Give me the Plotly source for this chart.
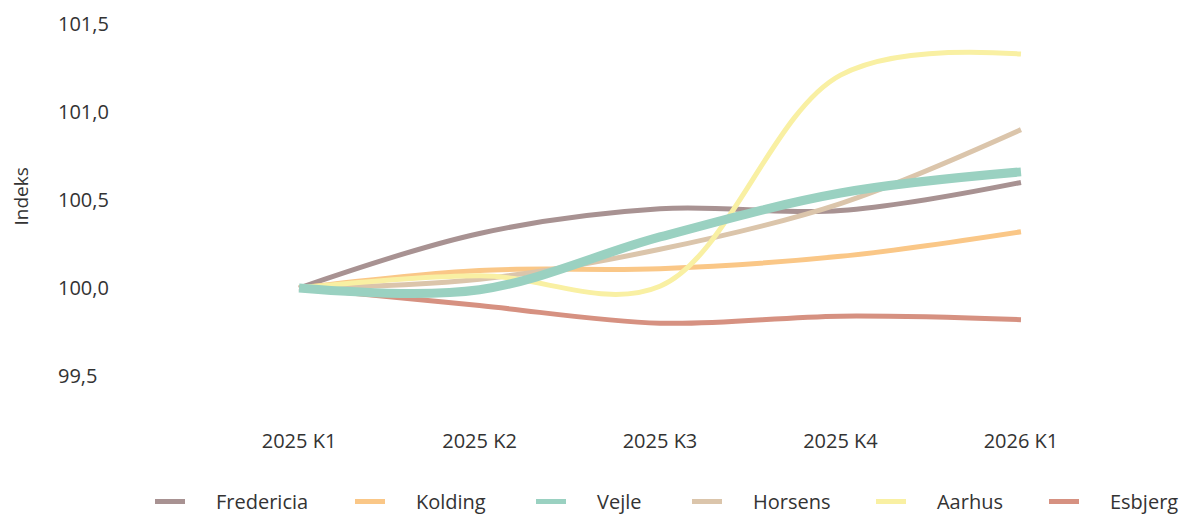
import plotly.graph_objects as go

quarters = ['2025 K1', '2025 K2', '2025 K3', '2025 K4', '2026 K1']

fredericia = [100.0, 100.31, 100.45, 100.44, 100.60]
kolding = [100.0, 100.10, 100.11, 100.18, 100.32]
vejle = [100.0, 99.99, 100.29, 100.54, 100.66]
horsens = [100.0, 100.05, 100.22, 100.48, 100.90]
aarhus = [100.0, 100.07, 100.01, 101.21, 101.33]
esbjerg = [100.0, 99.90, 99.80, 99.84, 99.82]

series = [
    ('Fredericia', fredericia, '#a89292', 5),
    ('Kolding', kolding, '#fac787', 5),
    ('Vejle', vejle, '#9ad1c1', 9),
    ('Horsens', horsens, '#dbc5ab', 5),
    ('Aarhus', aarhus, '#f9f0a3', 5),
    ('Esbjerg', esbjerg, '#d69181', 5),
]
# left edge of each legend entry (px in the page)
legend_x = [150, 350, 531, 687, 871, 1044]

font = 'Open Sans'
txt = '#333333'
# the page body has an 8px margin, so the figure is drawn 8px smaller
OFF = 8
W, H = 1191 - OFF, 516 - OFF

fig = go.Figure()
# Vejle is drawn on top of the others
order = [0, 1, 3, 4, 5, 2]
for i in order:
    name, vals, color, width = series[i]
    leg = 'legend' if i == 0 else 'legend%d' % (i + 1)
    fig.add_trace(go.Scatter(
        x=quarters, y=vals, name='\u00a0' * 5 + name, mode='lines',
        line=dict(color=color, width=width, shape='spline'),
        legend=leg,
    ))

legends = {}
for i, lx in enumerate(legend_x):
    key = 'legend' if i == 0 else 'legend%d' % (i + 1)
    legends[key] = dict(orientation='h', xref='container', yref='container',
                        x=(lx - OFF) / W, xanchor='left',
                        y=1 - (482 - OFF) / H, yanchor='top',
                        font=dict(family=font, size=20, color=txt),
                        bgcolor='rgba(0,0,0,0)', itemsizing='constant')

plot_top, plot_bottom = 10 - OFF, 427 - OFF
fig.update_layout(
    width=W, height=H,
    margin=dict(l=55 - OFF, r=0, t=plot_top, b=H - plot_bottom),
    plot_bgcolor='white', paper_bgcolor='white',
    font=dict(family=font, size=20, color=txt),
    separators=',.',
    showlegend=True,
    xaxis=dict(range=[-1.352, 4.942], showgrid=False, zeroline=False,
               showline=False, ticks='', automargin=False,
               tickfont=dict(size=20, color=txt)),
    yaxis=dict(range=[99.21, 101.58], tickvals=[99.5, 100.0, 100.5, 101.0, 101.5],
               tickformat='.1f', showgrid=False, zeroline=False, showline=False,
               ticks='', ticklabelposition='inside', automargin=False,
               tickfont=dict(size=20, color=txt)),
    **legends,
)

fig.add_annotation(text='Indeks', xref='paper', yref='paper',
                   x=(20.5 - 55) / (W - 55 + OFF),
                   y=(plot_bottom - (197 - OFF)) / (plot_bottom - plot_top),
                   xanchor='center', yanchor='middle', textangle=-90,
                   showarrow=False, font=dict(size=19, color=txt))

fig.write_html('out.html')
